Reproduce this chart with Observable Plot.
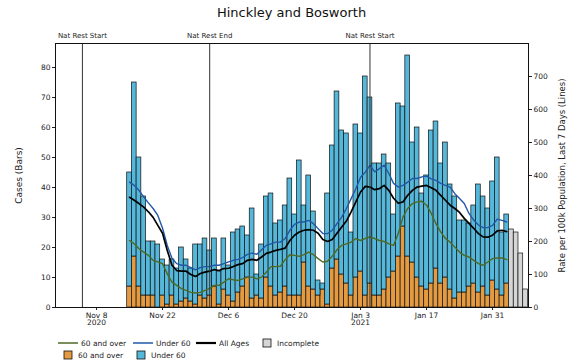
<!DOCTYPE html>
<html><head><meta charset="utf-8">
<script src="https://cdn.jsdelivr.net/npm/d3@7"></script>
<script src="https://cdn.jsdelivr.net/npm/@observablehq/plot@0.6"></script>
<style>
body{margin:0;background:#fff;font-family:"DejaVu Sans",sans-serif;}
#wrap{position:relative;width:569px;height:364px;overflow:hidden;}
#title{position:absolute;left:0;width:583px;top:5px;text-align:center;font-size:13px;color:#111;}
#legend{position:absolute;left:0;top:0;}
</style></head>
<body>
<div id="wrap"><div id="chart"></div><div id="title">Hinckley and Bosworth</div></div>
<script>
// ---- data ----
const firstDate = "2020-11-15"; // first bar; one value per day
const over60 = [
  7,17,7,4,4,4,0,4,1,4,1,2,3,2,1,4,
  3,4,7,1,6,4,2,5,7,10, 3,4,3,10,7,4,5,7,4,4, 4,15,7,6,4,6,1,13,16,11,8,
  4,10,12,4,8,4,4,6,10,12, 17,27,17,15,10,7,6,8,13,8, 10,6,3,5,5,7,8,5,7,4,9,
  6,4,8];
const under60 = [
  38,58,43,33,18,18,21,12,13,12,12,18,13,11,20,17,
  20,15,16,11,17,10,23,21,20,14, 30,7,18,27,31,24,24,27,39,27, 45,19,37,26,5,2,37,41,56,48,50,
  21,51,46,73,62,44,44,45,38,19, 51,40,67,40,50,31,38,51,49,40, 45,35,34,24,24,21,26,36,30,29,33,
  44,21,23];
const incompleteDates = ["2021-02-04","2021-02-05","2021-02-06","2021-02-07"];
const incompleteCases = [26,25,18,6];
const rateAll = [
  334,325,315,304,290,273,249,225,173,128,112,110,110,100,94,103,
  107,110,115,112,118,119,124,130,133,143, 146,143,153,164,168,173,176,180,203,219, 229,234,236,234,225,206,200,206,225,244,262,
  290,320,350,367,365,357,360,370,355,331, 316,320,340,355,365,368,370,363,355,340, 325,310,300,288,270,255,240,224,214,213,219,
  232,234,230];
const rateUnder60 = [
  380,370,355,335,317,300,279,240,188,149,133,128,128,121,114,121,
  124,124,128,128,133,138,143,146,151,161, 165,161,175,188,193,198,198,209,234,252, 259,259,264,254,239,224,224,234,254,274,300,
  330,360,395,410,431,411,421,431,406,376, 365,370,380,391,391,396,398,390,385,376, 370,365,345,330,315,285,265,250,242,242,249,
  268,264,259];
const rateOver60 = [
  203,193,178,168,158,143,138,133,102,77,67,57,52,46,44,46,
  52,57,67,67,77,87,84,82,87,92, 92,87,92,107,124,124,125,145,160,158, 155,160,168,160,148,138,140,155,175,188,193,
  198,209,203,209,214,209,203,200,193,188, 224,274,300,315,320,322,310,285,254,229, 209,198,183,168,158,153,143,133,128,138,148,
  150,150,145];
const restDates = ["2020-11-05","2020-12-02","2021-01-05"];
const restLabels = ["Nat Rest Start","Nat Rest End","Nat Rest Start"];
const xTickDates = ["2020-11-08","2020-11-22","2020-12-06","2020-12-20","2021-01-03","2021-01-17","2021-01-31"];
const xTickLabels = ["Nov 8\n2020","Nov 22","Dec 6","Dec 20","Jan 3\n2021","Jan 17","Jan 31"];
const leftTicks = [0,10,20,30,40,50,60,70,80];
const rightTicks = [0,100,200,300,400,500,600,700];

// ---- build ----
const C = {orange:"#e49a40", blue:"#55b8da", gray:"#d6d6d6", olive:"#4e6a24", lineBlue:"#2158a8", black:"#000"};
const parse = s => new Date(s + "T00:00:00Z");
const d0 = parse(firstDate);
const days = over60.map((_, i) => d3.utcDay.offset(d0, i));
const half = 12*3600*1000;
const bars = days.map((d, i) => ({date: d, o: over60[i], t: over60[i] + under60[i]}));
const inc = incompleteDates.map((s, i) => ({date: parse(s), t: incompleteCases[i]}));
const lines = days.map((d, i) => ({date: d, all: rateAll[i], u: rateUnder60[i], o: rateOver60[i]}));
const rests = restDates.map((s, i) => ({date: parse(s), label: restLabels[i]}));
const k = 88/800; // right axis (rate) to left axis (cases)
const tickMap = new Map(xTickDates.map((s, i) => [+parse(s), xTickLabels[i]]));

const chart = Plot.plot({
  width: 569, height: 364,
  marginLeft: 55, marginRight: 41, marginTop: 43, marginBottom: 57,
  style: {fontFamily: "DejaVu Sans", fontSize: "7.5px", background: "white", color: "#222"},
  x: {type: "utc", domain: [new Date(Date.UTC(2020,9,30,7)), new Date(Date.UTC(2021,1,7,15))]},
  y: {domain: [0, 88]},
  marks: [
    Plot.rectY(bars, {x1: d => new Date(+d.date - half), x2: d => new Date(+d.date + half), y1: 0, y2: "o", fill: C.orange, stroke: "#111", strokeWidth: 0.7}),
    Plot.rectY(bars, {x1: d => new Date(+d.date - half), x2: d => new Date(+d.date + half), y1: "o", y2: "t", fill: C.blue, stroke: "#111", strokeWidth: 0.7}),
    Plot.rectY(inc, {x1: d => new Date(+d.date - half), x2: d => new Date(+d.date + half), y1: 0, y2: "t", fill: C.gray, stroke: "#111", strokeWidth: 0.7}),
    Plot.line(lines, {x: "date", y: d => d.o * k, stroke: C.olive, strokeWidth: 1.4}),
    Plot.line(lines, {x: "date", y: d => d.u * k, stroke: C.lineBlue, strokeWidth: 1.4}),
    Plot.line(lines, {x: "date", y: d => d.all * k, stroke: C.black, strokeWidth: 1.7}),
    Plot.ruleX(rests, {x: "date", stroke: "#333", strokeWidth: 1}),
    Plot.text(rests, {x: "date", text: "label", frameAnchor: "top", dy: -10, fontSize: 7, fill: "#222"}),
    Plot.axisX(xTickDates.map(parse), {tickSize: 3, tickPadding: 2, tickFormat: d => tickMap.get(+d), label: null}),
    Plot.axisY(leftTicks, {tickSize: 3, tickPadding: 2, label: null}),
    Plot.axisY(rightTicks.map(v => v * k), {anchor: "right", tickSize: 3, tickPadding: 2, tickFormat: v => String(Math.round(v / k)), label: null}),
    Plot.text(["Cases (Bars)"], {frameAnchor: "left", textAnchor: "middle", dx: -36, rotate: -90, fontSize: 9, fill: "#222"}),
    Plot.text(["Rate per 100k Population, Last 7 Days (Lines)"], {frameAnchor: "right", textAnchor: "middle", dx: 34, rotate: -90, fontSize: 8.5, fill: "#222"}),
    Plot.frame({stroke: "#111", strokeWidth: 1})
  ]
});
document.getElementById("chart").appendChild(chart);

// ---- legend ----
const ns = "http://www.w3.org/2000/svg";
const lg = document.createElementNS(ns, "svg");
lg.setAttribute("id", "legend"); lg.setAttribute("width", 569); lg.setAttribute("height", 364);
document.getElementById("wrap").appendChild(lg);
function el(tag, attrs, text){ const e = document.createElementNS(ns, tag); for (const a in attrs) e.setAttribute(a, attrs[a]); if (text) e.textContent = text; lg.appendChild(e); }
function txt(x, y, s){ el("text", {x, y, "font-size": 7.5, "font-family": "DejaVu Sans", fill: "#222", "dominant-baseline": "middle"}, s); }
const legendLines = [
  {x: 58, color: C.olive, w: 1.5, label: "60 and over"},
  {x: 133, color: C.lineBlue, w: 1.5, label: "Under 60"},
  {x: 196, color: C.black, w: 2.2, label: "All Ages"}];
legendLines.forEach(d => { el("line", {x1: d.x, x2: d.x + 20, y1: 343, y2: 343, stroke: d.color, "stroke-width": d.w}); txt(d.x + 23, 343.5, d.label); });
const legendBoxes = [
  {x: 263, y: 343, color: C.gray, label: "Incomplete"},
  {x: 64, y: 355, color: C.orange, label: "60 and over"},
  {x: 137, y: 355, color: C.blue, label: "Under 60"}];
legendBoxes.forEach(d => { el("rect", {x: d.x, y: d.y - 4, width: 8, height: 8, fill: d.color, stroke: "#111", "stroke-width": 0.8}); txt(d.x + 14, d.y + 0.5, d.label); });
</script>
</body></html>
